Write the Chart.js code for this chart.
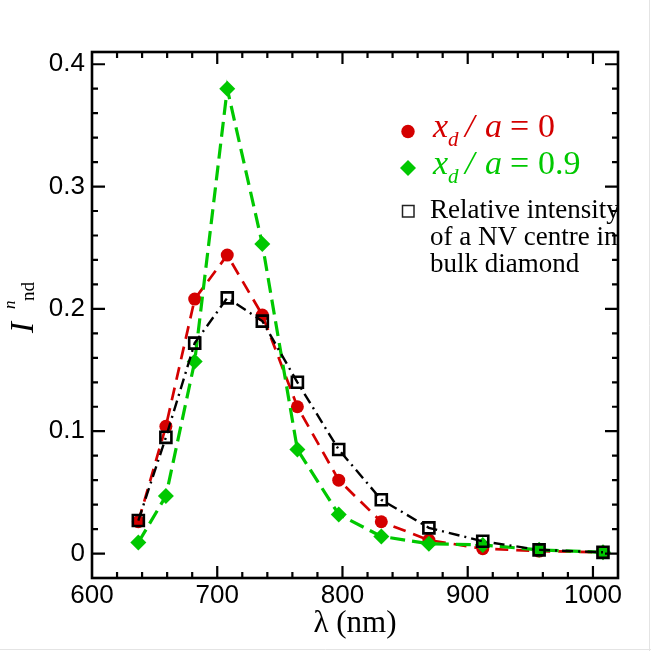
<!DOCTYPE html>
<html>
<head>
<meta charset="utf-8">
<script src="https://cdn.jsdelivr.net/npm/chart.js@4.4.1/dist/chart.umd.min.js"></script>
<style>
  html, body { margin: 0; padding: 0; background: #fff; }
  #wrap { width: 651px; height: 651px; position: relative; }
</style>
</head>
<body>
<div id="wrap"><canvas id="chart"></canvas></div>
<script>
// Data (wavelength in nm, normalised intensity)
const wavelengths = [637, 659, 682, 708, 736, 764, 797, 831, 869, 912, 957, 1008];
const xd0 = [0.026, 0.104, 0.208, 0.244, 0.195, 0.120, 0.060, 0.026, 0.011, 0.004, 0.002, 0.001];
const xd09 = [0.009, 0.047, 0.157, 0.380, 0.253, 0.085, 0.032, 0.014, 0.008, 0.007, 0.003, 0.001];
const bulk = [0.027, 0.095, 0.172, 0.209, 0.190, 0.140, 0.085, 0.044, 0.021, 0.010, 0.003, 0.001];

const xTicks = [600, 700, 800, 900, 1000];
const yTicks = [0, 0.1, 0.2, 0.3, 0.4];

const RED = '#d40000';
const GREEN = '#00c800';

const pts = arr => arr.map((v, i) => ({ x: wavelengths[i], y: v }));

// Frame, inward ticks, titles and legend (Tecplot look)
const decor = {
    id: 'decor',
    beforeDraw(chart) {
        const ctx = chart.ctx;
        ctx.save();
        ctx.fillStyle = '#fff';
        ctx.fillRect(0, 0, chart.width, chart.height);
        ctx.strokeStyle = '#e4e4e4';
        ctx.lineWidth = 1;
        ctx.beginPath();
        ctx.moveTo(0, 649.5); ctx.lineTo(651, 649.5);
        ctx.moveTo(649.5, 0); ctx.lineTo(649.5, 651);
        ctx.stroke();
        ctx.restore();
    },
    afterDraw(chart) {
        const ctx = chart.ctx;
        const a = chart.chartArea;
        const xs = chart.scales.x, ys = chart.scales.y;
        ctx.save();

        // legend, clipped to the plot area like the original
        ctx.save();
        ctx.beginPath();
        ctx.rect(a.left, a.top, a.right - a.left, a.bottom - a.top);
        ctx.clip();

        ctx.fillStyle = RED;
        ctx.beginPath();
        ctx.arc(408, 131.5, 6.7, 0, Math.PI * 2);
        ctx.fill();
        ctx.fillStyle = GREEN;
        ctx.beginPath();
        ctx.moveTo(400, 168); ctx.lineTo(408, 160); ctx.lineTo(416, 168); ctx.lineTo(408, 176);
        ctx.closePath();
        ctx.fill();
        ctx.strokeStyle = '#222';
        ctx.lineWidth = 1.5;
        ctx.strokeRect(402.5, 205.5, 11.5, 11.5);

        const mathLine = (color, base, num) => {
            ctx.fillStyle = color;
            ctx.textAlign = 'left';
            ctx.textBaseline = 'alphabetic';
            ctx.font = 'italic 34px "Liberation Serif"';
            ctx.fillText('x', 433, base);
            ctx.font = 'italic 21px "Liberation Serif"';
            ctx.fillText('d', 448, base + 9);
            ctx.font = 'italic 34px "Liberation Serif"';
            ctx.fillText('/', 465, base);
            ctx.fillText('a', 485, base);
            ctx.font = '34px "Liberation Serif"';
            ctx.fillText('=', 510, base);
            ctx.fillText(num, 538, base);
        };
        mathLine(RED, 137, '0');
        mathLine(GREEN, 174, '0.9');

        ctx.fillStyle = '#000';
        ctx.font = '27px "Liberation Serif"';
        ctx.fillText('Relative intensity', 430, 218);
        ctx.fillText('of a NV centre in', 430, 245);
        ctx.fillText('bulk diamond', 430, 272);
        ctx.restore();

        // frame
        ctx.strokeStyle = '#000';
        ctx.lineWidth = 2.6;
        ctx.strokeRect(a.left, a.top, a.right - a.left, a.bottom - a.top);

        // inward ticks on all four sides
        ctx.lineWidth = 2.2;
        ctx.beginPath();
        for (let v = 620; v < 1020; v += 20) {
            const px = xs.getPixelForValue(v);
            const len = xTicks.includes(v) ? 12 : 6;
            ctx.moveTo(px, a.bottom); ctx.lineTo(px, a.bottom - len);
            ctx.moveTo(px, a.top); ctx.lineTo(px, a.top + len);
        }
        for (let k = 0; k <= 20; k++) {
            const v = Math.round(k * 2) / 100;
            const py = ys.getPixelForValue(v);
            const major = k % 5 === 0;
            const len = major ? 13 : 6;
            ctx.moveTo(a.left, py); ctx.lineTo(a.left + len, py);
            ctx.moveTo(a.right, py); ctx.lineTo(a.right - len, py);
        }
        ctx.stroke();

        // x title
        ctx.fillStyle = '#000';
        ctx.textAlign = 'center';
        ctx.textBaseline = 'alphabetic';
        ctx.font = '31px "Liberation Serif"';
        ctx.fillText('λ (nm)', (a.left + a.right) / 2, 632);

        // y title I^n_nd, rotated
        ctx.save();
        ctx.translate(33, 334);
        ctx.rotate(-Math.PI / 2);
        ctx.textAlign = 'left';
        ctx.font = 'italic 33px "Liberation Serif"';
        ctx.fillText('I', 1, 0);
        ctx.font = 'italic 17px "Liberation Serif"';
        ctx.fillText('n', 25, -18);
        ctx.font = '19px "Liberation Serif"';
        ctx.fillText('nd', 33, 1);
        ctx.restore();

        ctx.restore();
    }
};

new Chart(document.getElementById('chart'), {
    type: 'scatter',
    data: {
        datasets: [{
            label: 'x_d/a = 0',
            data: pts(xd0),
            showLine: true,
            order: 3,
            borderColor: RED,
            borderWidth: 2.7,
            borderDash: [13, 8],
            pointStyle: 'circle',
            pointRadius: 6.5,
            pointBackgroundColor: RED,
            pointBorderWidth: 0
        }, {
            label: 'x_d/a = 0.9',
            data: pts(xd09),
            showLine: true,
            order: 2,
            borderColor: GREEN,
            borderWidth: 3.2,
            borderDash: [15, 7],
            pointStyle: 'rectRot',
            pointRadius: 8,
            pointBackgroundColor: GREEN,
            pointBorderWidth: 0
        }, {
            label: 'Relative intensity of a NV centre in bulk diamond',
            data: pts(bulk),
            showLine: true,
            order: 1,
            borderColor: '#000',
            borderWidth: 2.4,
            borderDash: [11, 5, 2, 5],
            pointStyle: 'rect',
            pointRadius: 7.8,
            pointBackgroundColor: 'rgba(0,0,0,0)',
            pointBorderColor: '#000',
            pointBorderWidth: 2.6
        }]
    },
    options: {
        responsive: true,
        maintainAspectRatio: false,
        animation: false,
        layout: { padding: { top: 52, right: 33, left: 0, bottom: 0 } },
        plugins: { legend: { display: false }, tooltip: { enabled: false } },
        scales: {
            x: {
                type: 'linear',
                min: 600,
                max: 1020,
                grid: { display: false, drawTicks: false, tickLength: 0 },
                border: { display: false },
                ticks: {
                    color: '#000',
                    font: { family: 'Liberation Sans', size: 26 },
                    padding: 2,
                    maxRotation: 0,
                    callback: v => String(v)
                },
                afterBuildTicks: s => { s.ticks = xTicks.map(v => ({ value: v })); },
                afterFit: s => { s.height = 73; }
            },
            y: {
                type: 'linear',
                min: -0.02,
                max: 0.41,
                grid: { display: false, drawTicks: false, tickLength: 0 },
                border: { display: false },
                ticks: {
                    color: '#000',
                    font: { family: 'Liberation Sans', size: 26 },
                    padding: 7,
                    callback: v => String(v)
                },
                afterBuildTicks: s => { s.ticks = yTicks.map(v => ({ value: v })); },
                afterFit: s => { s.width = 92; }
            }
        }
    },
    plugins: [decor]
});
</script>
</body>
</html>
